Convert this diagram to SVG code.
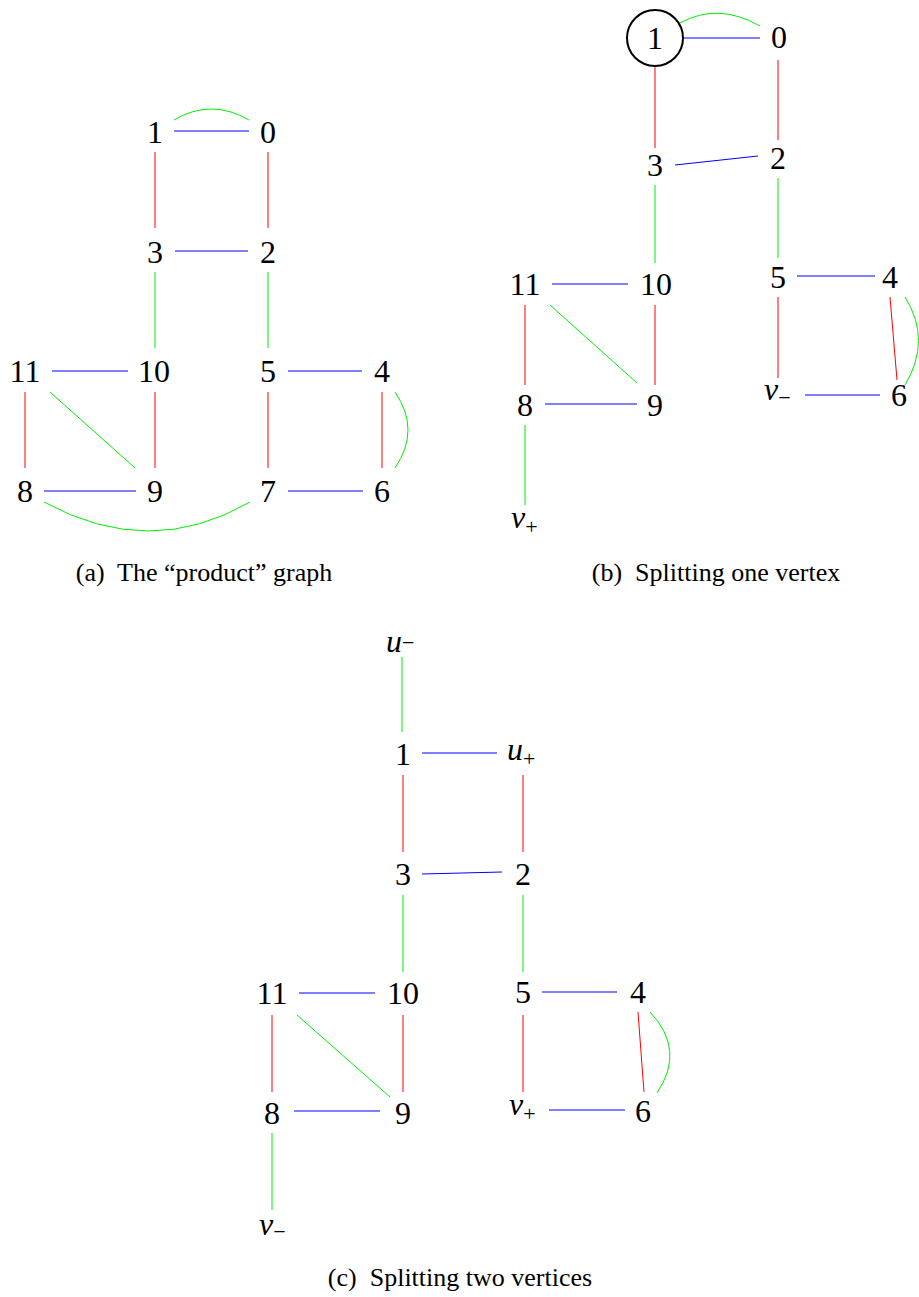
<svg xmlns="http://www.w3.org/2000/svg" width="919" height="1297" viewBox="0 0 919 1297">
<style>
  .n { font-family: "Liberation Serif", "Times New Roman", serif; font-size: 32px; fill: #000; text-anchor: middle; }
  .v { font-family: "Liberation Serif", "Times New Roman", serif; font-size: 32px; fill: #000; font-style: italic; }
  .sub { font-style: normal; font-size: 22px; }
  .cap { font-family: "Liberation Serif", "Times New Roman", serif; font-size: 26px; fill: #000; text-anchor: middle; }
  .r { stroke: #ff0000; stroke-width: 1; fill: none; }
  .g { stroke: #00ee00; stroke-width: 1; fill: none; }
  .b { stroke: #0000ff; stroke-width: 1; fill: none; }
</style>
<rect width="919" height="1297" fill="#fff"/>

<!-- Panel (a) -->
<g id="a-edges">
  <line class="b" x1="174" y1="131" x2="249" y2="131"/>
  <path class="g" d="M174,120 Q211,98 249,120"/>
  <line class="r" x1="155" y1="152" x2="155" y2="228"/>
  <line class="r" x1="268" y1="152" x2="268" y2="228"/>
  <line class="b" x1="175" y1="251" x2="248" y2="251"/>
  <line class="g" x1="155" y1="272" x2="155" y2="348"/>
  <line class="g" x1="268" y1="272" x2="268" y2="348"/>
  <line class="b" x1="52" y1="371" x2="128" y2="371"/>
  <line class="b" x1="288" y1="371" x2="362" y2="371"/>
  <line class="r" x1="25" y1="392" x2="25" y2="468"/>
  <line class="r" x1="155" y1="392" x2="155" y2="468"/>
  <line class="r" x1="268" y1="392" x2="268" y2="468"/>
  <line class="r" x1="382" y1="392" x2="382" y2="468"/>
  <line class="g" x1="50" y1="392" x2="135" y2="468"/>
  <path class="g" d="M395,392 Q421,430 395,468"/>
  <line class="b" x1="44" y1="491" x2="136" y2="491"/>
  <line class="b" x1="288" y1="491" x2="363" y2="491"/>
  <path class="g" d="M44,502 Q150,560 250,502"/>
</g>
<g id="a-n1"><text class="n" x="155" y="143">1</text></g>
<g id="a-n0"><text class="n" x="268" y="143">0</text></g>
<g id="a-n3"><text class="n" x="155" y="263">3</text></g>
<g id="a-n2"><text class="n" x="268" y="263">2</text></g>
<g id="a-n11"><text class="n" x="25" y="382">11</text></g>
<g id="a-n10"><text class="n" x="154" y="382">10</text></g>
<g id="a-n5"><text class="n" x="268" y="382">5</text></g>
<g id="a-n4"><text class="n" x="382" y="382">4</text></g>
<g id="a-n8"><text class="n" x="25" y="502">8</text></g>
<g id="a-n9"><text class="n" x="155" y="502">9</text></g>
<g id="a-n7"><text class="n" x="268" y="502">7</text></g>
<g id="a-n6"><text class="n" x="382" y="502">6</text></g>
<text class="cap" x="204" y="581" xml:space="preserve">(a)  The “product” graph</text>

<!-- Panel (b) -->
<g id="b-edges">
  <line class="b" x1="683" y1="38" x2="760" y2="38"/>
  <path class="g" d="M680,23 Q718,2 760,26"/>
  <line class="r" x1="655" y1="67" x2="655" y2="148"/>
  <line class="r" x1="778" y1="60" x2="778" y2="140"/>
  <line class="b" x1="675" y1="165" x2="758" y2="156"/>
  <line class="g" x1="655" y1="185" x2="655" y2="263"/>
  <line class="g" x1="778" y1="178" x2="778" y2="258"/>
  <line class="b" x1="552" y1="284" x2="628" y2="284"/>
  <line class="b" x1="797" y1="276" x2="875" y2="276"/>
  <line class="r" x1="525" y1="305" x2="525" y2="385"/>
  <line class="r" x1="655" y1="305" x2="655" y2="385"/>
  <line class="g" x1="550" y1="305" x2="637" y2="383"/>
  <line class="b" x1="545" y1="404" x2="637" y2="404"/>
  <line class="g" x1="525" y1="425" x2="525" y2="505"/>
  <line class="r" x1="778" y1="297" x2="778" y2="378"/>
  <line class="r" x1="890" y1="297" x2="897" y2="380"/>
  <path class="g" d="M905,297 Q932,340 905,385"/>
  <line class="b" x1="805" y1="395" x2="880" y2="395"/>
</g>
<g id="b-n1"><circle cx="655" cy="38" r="28" fill="none" stroke="#000" stroke-width="2"/><text class="n" x="655" y="49">1</text></g>
<g id="b-n0"><text class="n" x="779" y="48">0</text></g>
<g id="b-n3"><text class="n" x="655" y="176">3</text></g>
<g id="b-n2"><text class="n" x="778" y="169">2</text></g>
<g id="b-n11"><text class="n" x="525" y="295">11</text></g>
<g id="b-n10"><text class="n" x="656" y="295">10</text></g>
<g id="b-n5"><text class="n" x="778" y="288">5</text></g>
<g id="b-n4"><text class="n" x="890" y="288">4</text></g>
<g id="b-n8"><text class="n" x="525" y="416">8</text></g>
<g id="b-n9"><text class="n" x="655" y="416">9</text></g>
<g id="b-nvm"><text class="v" x="764" y="400">v<tspan class="sub" dy="5">−</tspan></text></g>
<g id="b-n6"><text class="n" x="899" y="406">6</text></g>
<g id="b-nvp"><text class="v" x="511" y="528">v<tspan class="sub" dy="6">+</tspan></text></g>
<text class="cap" x="716" y="581" xml:space="preserve">(b)  Splitting one vertex</text>

<!-- Panel (c) -->
<g id="c-edges">
  <line class="g" x1="402" y1="657" x2="402" y2="732"/>
  <line class="b" x1="422" y1="753" x2="497" y2="753"/>
  <line class="r" x1="403" y1="775" x2="403" y2="852"/>
  <line class="r" x1="523" y1="775" x2="523" y2="852"/>
  <line class="b" x1="422" y1="874" x2="502" y2="872"/>
  <line class="g" x1="403" y1="895" x2="403" y2="972"/>
  <line class="g" x1="523" y1="895" x2="523" y2="972"/>
  <line class="b" x1="299" y1="993" x2="375" y2="993"/>
  <line class="b" x1="542" y1="992" x2="617" y2="992"/>
  <line class="r" x1="272" y1="1015" x2="272" y2="1092"/>
  <line class="r" x1="403" y1="1015" x2="403" y2="1092"/>
  <line class="r" x1="523" y1="1015" x2="523" y2="1092"/>
  <line class="r" x1="638" y1="1012" x2="644" y2="1092"/>
  <path class="g" d="M650,1012 Q686,1050 657,1093"/>
  <line class="g" x1="297" y1="1015" x2="390" y2="1097"/>
  <line class="b" x1="294" y1="1111" x2="380" y2="1111"/>
  <line class="b" x1="549" y1="1110" x2="625" y2="1110"/>
  <line class="g" x1="272" y1="1133" x2="272" y2="1210"/>
</g>
<g id="c-num"><text class="v" x="386" y="652">u<tspan class="sub" dy="-2">−</tspan></text></g>
<g id="c-n1"><text class="n" x="403" y="765">1</text></g>
<g id="c-nup"><text class="v" x="507" y="760">u<tspan class="sub" dy="6">+</tspan></text></g>
<g id="c-n3"><text class="n" x="403" y="885">3</text></g>
<g id="c-n2"><text class="n" x="523" y="885">2</text></g>
<g id="c-n11"><text class="n" x="272" y="1004">11</text></g>
<g id="c-n10"><text class="n" x="403" y="1004">10</text></g>
<g id="c-n5"><text class="n" x="523" y="1003">5</text></g>
<g id="c-n4"><text class="n" x="638" y="1003">4</text></g>
<g id="c-n8"><text class="n" x="272" y="1124">8</text></g>
<g id="c-n9"><text class="n" x="403" y="1124">9</text></g>
<g id="c-nvp"><text class="v" x="509" y="1115">v<tspan class="sub" dy="6">+</tspan></text></g>
<g id="c-n6"><text class="n" x="643" y="1122">6</text></g>
<g id="c-nvm"><text class="v" x="259" y="1235">v<tspan class="sub" dy="4">−</tspan></text></g>
<text class="cap" x="460" y="1286" xml:space="preserve">(c)  Splitting two vertices</text>
</svg>
